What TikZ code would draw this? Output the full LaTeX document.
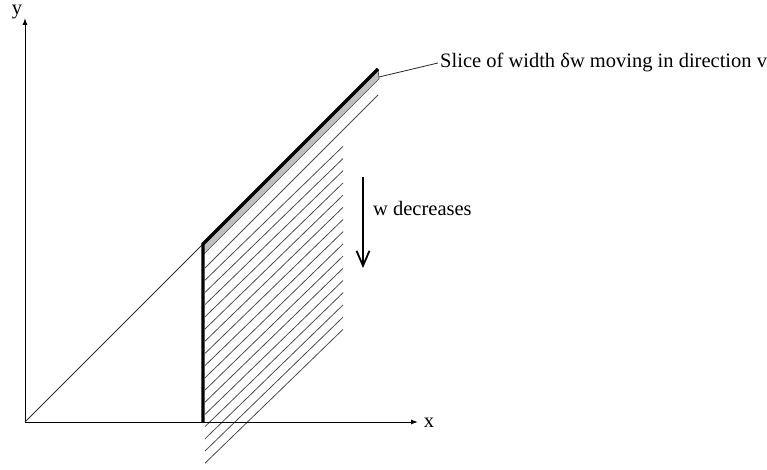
\documentclass[tikz,border=0pt]{standalone}
\usepackage{fontspec}
\setmainfont{Liberation Serif}
\usetikzlibrary{arrows.meta}
\begin{document}
\begin{tikzpicture}[x=1pt,y=-1pt,
  lbl/.style={font=\fontsize{20.5}{24}\selectfont, inner sep=0pt},
  axisline/.style={line width=1pt,-{Latex[length=7pt,width=5pt]}},
  thinline/.style={line width=0.8pt, black!80},
  hatchline/.style={line width=0.8pt, black!70},
  heavy/.style={line width=3.2pt, line join=miter},
  bandgray/.style={fill=black!25},
  leader/.style={line width=0.8pt, black!85},
  downarrow/.style={line width=1.8pt, -{Straight Barb[length=15pt,width=13pt]}}]
\useasboundingbox (0,0) rectangle (767,470);
\coordinate (O) at (25,422);
\coordinate (Ytip) at (25,18);
\coordinate (Xtip) at (418,422);
\coordinate (P) at (203,244);
\coordinate (Q) at (378,69);
\coordinate (Qb) at (379,79);
\coordinate (Pb) at (203,255);
\coordinate (B) at (203,422);
\coordinate (L) at (379,77);
\coordinate (A1) at (363,177);
\coordinate (A2) at (363,268);
% grey slice
\fill[bandgray] (P) -- (Q) -- (Qb) -- (Pb) -- cycle;
\draw[line width=0.7pt, black!70] (Pb) -- (Qb) -- (Q);
% hatching
\coordinate (H0a) at (205,268);
\coordinate (H0b) at (378,95);
\draw[hatchline] (H0a) -- (H0b);
\foreach \k in {1,...,16}{
  \pgfmathsetmacro{\c}{268+12.2*\k}
  \pgfmathsetmacro{\d}{\c-0.97*138}
  \coordinate (Ha\k) at (205,\c);
  \coordinate (Hb\k) at (343,\d);
  \draw[hatchline] (Ha\k) -- (Hb\k);
}
% axes
\draw[axisline] (O) -- (Ytip);
\draw[axisline] (O) -- (Xtip);
\draw[thinline] (O) -- (P);
\draw[heavy] (B) -- (P) -- (Q);
% labels
\node[lbl, anchor=base] (ylab) at (17,15) {y};
\node[lbl, anchor=base] (xlab) at (429,427) {x};
\node[lbl, anchor=base west] (slice) at (440,68) {Slice of width δw moving in direction v};
\draw[leader] (L) -- ([xshift=-2pt]slice.west);
\draw[downarrow] (A1) -- (A2);
\node[lbl, anchor=base west] (wdec) at (373,215) {w decreases};
\end{tikzpicture}
\end{document}
